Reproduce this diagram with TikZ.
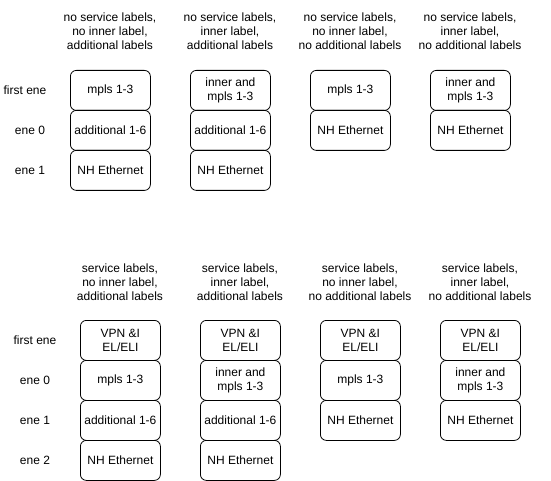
\documentclass[tikz,border=0pt]{standalone}
\usepackage{fontspec}
\setmainfont{Liberation Sans}
\begin{document}
\begin{tikzpicture}[x=1pt,y=-1pt,
  cell/.style={draw=black,line width=0.8pt,rounded corners=6pt,minimum width=80pt,minimum height=40pt,inner sep=0pt,align=center,font=\fontsize{12}{14}\selectfont,anchor=north west},
  hdr/.style={align=center,font=\fontsize{12}{14}\selectfont,inner sep=0pt},
  side/.style={font=\fontsize{12}{14}\selectfont,inner sep=0pt}]
\useasboundingbox (0,0) rectangle (551,481);
% top headers
\node[hdr] (h1) at (110,31) {no service labels,\\no inner label,\\additional labels};
\node[hdr] (h2) at (230,31) {no service labels,\\inner label,\\additional labels};
\node[hdr] (h3) at (350,31) {no service labels,\\no inner label,\\no additional labels};
\node[hdr] (h4) at (470,31) {no service labels,\\inner label,\\no additional labels};
% top side labels
\node[side] (s1) at (25,90) {first ene};
\node[side] (s2) at (30,130) {ene 0};
\node[side] (s3) at (30,170) {ene 1};
% top column 1
\node[cell] (a1) at (70,70) {mpls 1-3};
\node[cell] (a2) at (70,110) {additional 1-6};
\node[cell] (a3) at (70,150) {NH Ethernet};
% top column 2
\node[cell] (b1) at (190,70) {inner and\\mpls 1-3};
\node[cell] (b2) at (190,110) {additional 1-6};
\node[cell] (b3) at (190,150) {NH Ethernet};
% top column 3
\node[cell] (c1) at (310,70) {mpls 1-3};
\node[cell] (c2) at (310,110) {NH Ethernet};
% top column 4
\node[cell] (d1) at (430,70) {inner and\\mpls 1-3};
\node[cell] (d2) at (430,110) {NH Ethernet};
% bottom headers
\node[hdr] (H1) at (120,282) {service labels,\\no inner label,\\additional labels};
\node[hdr] (H2) at (240,282) {service labels,\\inner label,\\additional labels};
\node[hdr] (H3) at (360,282) {service labels,\\no inner label,\\no additional labels};
\node[hdr] (H4) at (480,282) {service labels,\\inner label,\\no additional labels};
% bottom side labels
\node[side] (S1) at (35,340) {first ene};
\node[side] (S2) at (35,380) {ene 0};
\node[side] (S3) at (35,420) {ene 1};
\node[side] (S4) at (35,460) {ene 2};
% bottom column 1
\node[cell] (e1) at (80,320) {VPN \&I\\EL/ELI};
\node[cell] (e2) at (80,360) {mpls 1-3};
\node[cell] (e3) at (80,400) {additional 1-6};
\node[cell] (e4) at (80,440) {NH Ethernet};
% bottom column 2
\node[cell] (f1) at (200,320) {VPN \&I\\EL/ELI};
\node[cell] (f2) at (200,360) {inner and\\mpls 1-3};
\node[cell] (f3) at (200,400) {additional 1-6};
\node[cell] (f4) at (200,440) {NH Ethernet};
% bottom column 3
\node[cell] (g1) at (320,320) {VPN \&I\\EL/ELI};
\node[cell] (g2) at (320,360) {mpls 1-3};
\node[cell] (g3) at (320,400) {NH Ethernet};
% bottom column 4
\node[cell] (k1) at (440,320) {VPN \&I\\EL/ELI};
\node[cell] (k2) at (440,360) {inner and\\mpls 1-3};
\node[cell] (k3) at (440,400) {NH Ethernet};
\end{tikzpicture}
\end{document}
